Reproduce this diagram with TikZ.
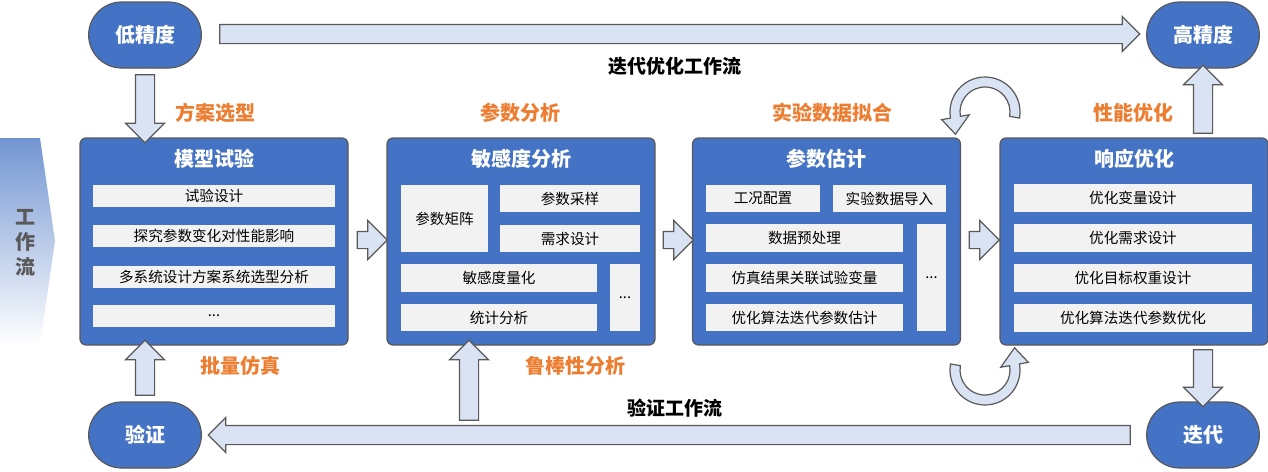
\documentclass[tikz,border=0pt]{standalone}
\usepackage{fontspec}
\setmainfont{Noto Sans CJK SC}
\usetikzlibrary{shapes.misc,shapes.arrows,calc}
\definecolor{boxblue}{HTML}{4472C4}
\definecolor{arrfill}{HTML}{DAE3F3}
\definecolor{itemgray}{HTML}{F2F2F2}
\definecolor{lineg}{HTML}{595959}
\definecolor{tagorange}{HTML}{ED7D31}
\tikzset{
  stage/.style={rounded rectangle, fill=boxblue, draw=lineg, line width=0.6pt,
    minimum width=63pt, minimum height=33pt, text=white, font=\fontsize{10}{10}\selectfont\bfseries},
  panel/.style={rectangle, rounded corners=3pt, fill=boxblue, draw=lineg, line width=0.6pt,
    minimum width=134pt, minimum height=103.5pt},
  title/.style={text=white, font=\fontsize{10}{10}\selectfont\bfseries},
  item/.style={rectangle, fill=itemgray, inner sep=0pt, minimum height=11pt,
    font=\fontsize{7.3}{7.3}\selectfont},
  tag/.style={text=tagorange, font=\fontsize{10}{10}\selectfont\bfseries},
  flow/.style={font=\fontsize{9.5}{9.5}\selectfont\bfseries},
  blk/.style={single arrow, fill=arrfill, draw=lineg, line width=0.6pt, inner sep=4.5pt,
    single arrow head extend=5pt, single arrow head indent=0pt, shape border uses incircle=false},
  loop arrow/.style={fill=arrfill, draw=lineg, line width=0.6pt}
}
\begin{document}
\begin{tikzpicture}[x=0.5pt,y=-0.5pt]
  \useasboundingbox (0,0) rectangle (1268,471);

  % left workflow tab
  \shade[top color=boxblue!75, bottom color=white] (0,138) -- (40,138) -- (55,241) -- (40,345) -- (0,345) -- cycle;
  \foreach \ch/\yy in {工/217, 作/242, 流/267}
    \node[text=lineg, font=\fontsize{10}{10}\selectfont\bfseries] at (25,\yy) {\ch};

  % stages
  \node[stage] (low) at (145,35) {低精度};
  \node[stage] (high) at (1203,35) {高精度};
  \node[stage] (verify) at (145,435) {验证};
  \node[stage] (iter) at (1203,435) {迭代};

  % panels
  \node[panel] (p1) at (214,241.5) {};
  \node[panel] (p2) at (521,241.5) {};
  \node[panel] (p3) at (826.5,241.5) {};
  \node[panel] (p4) at (1134,241.5) {};
  \node[title] at (214,159) {模型试验};
  \node[title] at (521,159) {敏感度分析};
  \node[title] at (826.5,159) {参数估计};
  \node[title] at (1134,159) {响应优化};

  % panel 1 items
  \node[item, minimum width=121pt] (a1) at (214,196) {试验设计};
  \node[item, minimum width=121pt] (a2) at (214,236) {探究参数变化对性能影响};
  \node[item, minimum width=121pt] (a3) at (214,276.5) {多系统设计方案系统选型分析};
  \node[item, minimum width=121pt] (a4) at (214,316) {...};

  % panel 2 items
  \node[item, minimum width=43.5pt, minimum height=33.5pt] (b1) at (444.5,218.5) {参数矩阵};
  \node[item, minimum width=70pt, minimum height=13.5pt] (b2) at (570,198.5) {参数采样};
  \node[item, minimum width=70pt, minimum height=13.5pt] (b3) at (570,238.5) {需求设计};
  \node[item, minimum width=98pt, minimum height=14pt] (b4) at (499,278) {敏感度量化};
  \node[item, minimum width=98pt, minimum height=13.5pt] (b5) at (499,317.5) {统计分析};
  \node[item, minimum width=15pt, minimum height=33.5pt] (b6) at (625,297.5) {...};

  % panel 3 items
  \node[item, minimum width=57pt, minimum height=13.5pt] (c1) at (763,198.5) {工况配置};
  \node[item, minimum width=56.5pt, minimum height=13.5pt] (c2) at (889.5,198.5) {实验数据导入};
  \node[item, minimum width=98.5pt, minimum height=14pt] (c3) at (804.5,238) {数据预处理};
  \node[item, minimum width=98.5pt, minimum height=14pt] (c4) at (804.5,278) {仿真结果关联试验变量};
  \node[item, minimum width=98.5pt, minimum height=13.5pt] (c5) at (804.5,317.5) {优化算法迭代参数估计};
  \node[item, minimum width=14.5pt, minimum height=53.5pt] (c6) at (931.5,277.5) {...};

  % panel 4 items
  \node[item, minimum width=119pt, minimum height=14pt] (d1) at (1133,198) {优化变量设计};
  \node[item, minimum width=119pt, minimum height=14pt] (d2) at (1133,238) {优化需求设计};
  \node[item, minimum width=119pt, minimum height=14pt] (d3) at (1133,278) {优化目标权重设计};
  \node[item, minimum width=119pt, minimum height=14pt] (d4) at (1133,318) {优化算法迭代参数优化};

  % block arrows
  \node[blk, minimum height=460pt, single arrow head extend=4pt] (topflow) at (675,34) {};
  \node[blk, minimum height=34pt, rotate=-90] (down1) at (145,104) {};
  \node[blk, minimum height=34pt, rotate=90] (up4) at (1203,104) {};
  \node[blk, minimum height=28.5pt, rotate=-90] (down4) at (1203,373.5) {};
  \node[blk, minimum height=27.5pt, rotate=90] (up1) at (145,372.5) {};
  \node[blk, minimum height=40pt, rotate=90] (up2) at (469,385) {};
  \node[blk, minimum height=461pt, rotate=180, single arrow head extend=4pt] (botflow) at (674,435) {};
  \foreach \xx in {368,674,980}
    \node[blk, minimum height=15pt, inner sep=4pt, single arrow head extend=5.5pt] at (\xx,240) {};

  % curved arrows
  \coordinate (ct) at (985,112);
  \coordinate (cb) at (985,370);
  \draw[loop arrow] ($(ct)+(10:35)$) arc[start angle=10, end angle=-190, radius=35]
    -- ($(ct)+(-190:44)$) -- ($(ct)+(-190:30)+(0,17)$) -- ($(ct)+(-190:16)$)
    -- ($(ct)+(-190:25)$) arc[start angle=-190, end angle=10, radius=25] -- cycle;
  \draw[loop arrow] ($(cb)+(190:35)$) arc[start angle=190, end angle=-10, radius=35]
    -- ($(cb)+(-10:44)$) -- ($(cb)+(-10:30)+(0,-17)$) -- ($(cb)+(-10:16)$)
    -- ($(cb)+(-10:25)$) arc[start angle=-10, end angle=190, radius=25] -- cycle;

  % labels
  \node[flow] at (675,66) {迭代优化工作流};
  \node[flow] at (675,408) {验证工作流};
  \node[tag] at (215,113) {方案选型};
  \node[tag] at (520,113) {参数分析};
  \node[tag] at (832,113) {实验数据拟合};
  \node[tag] at (1133,113) {性能优化};
  \node[tag] at (240,366) {批量仿真};
  \node[tag] at (575,366) {鲁棒性分析};
\end{tikzpicture}
\end{document}
